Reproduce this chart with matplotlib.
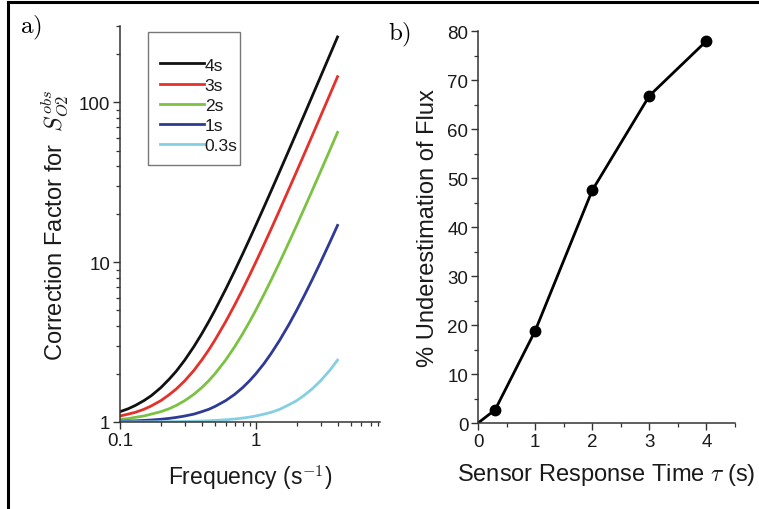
import numpy as np
import matplotlib.pyplot as plt
from matplotlib.ticker import FixedLocator, NullFormatter, FuncFormatter, MultipleLocator
from matplotlib.lines import Line2D
from matplotlib.patches import Rectangle

plt.rcParams['font.family'] = ['Liberation Sans', 'DejaVu Sans']
plt.rcParams['mathtext.fontset'] = 'cm'

# panel a) values
freq = [0.1, 0.115, 0.13, 0.15, 0.17, 0.2, 0.23, 0.26, 0.3, 0.35, 0.4, 0.45,
        0.5, 0.6, 0.7, 0.8, 0.9, 1.0, 1.15, 1.3, 1.5, 1.75, 2.0, 2.3, 2.6,
        3.0, 3.5, 4.0]
cf_4s = [1.16, 1.21, 1.27, 1.36, 1.46, 1.64, 1.85, 2.08, 2.44, 2.96, 3.56, 4.24,
         5.0, 6.76, 8.84, 11.24, 13.96, 17, 22.16, 28.04, 37, 50, 65, 85.6, 109.2,
         145, 197, 257]
cf_3s = [1.09, 1.12, 1.15, 1.20, 1.26, 1.36, 1.48, 1.61, 1.81, 2.10, 2.44, 2.82,
         3.25, 4.24, 5.41, 6.76, 8.29, 10, 12.9, 16.2, 21.25, 28.6, 37, 48.6, 61.8,
         82, 111.25, 145]
cf_2s = [1.04, 1.05, 1.07, 1.09, 1.12, 1.16, 1.21, 1.27, 1.36, 1.49, 1.64, 1.81,
         2.0, 2.44, 2.96, 3.56, 4.24, 5.0, 6.29, 7.76, 10, 13.25, 17, 22.16, 28.04,
         37, 50, 65]
cf_1s = [1.01, 1.013, 1.017, 1.023, 1.029, 1.04, 1.053, 1.068, 1.09, 1.12, 1.16, 1.20,
         1.25, 1.36, 1.49, 1.64, 1.81, 2.0, 2.32, 2.69, 3.25, 4.06, 5.0, 6.29, 7.76,
         10, 13.25, 17]
cf_03s = [1.001, 1.001, 1.002, 1.002, 1.003, 1.004, 1.005, 1.006, 1.008, 1.011, 1.014, 1.018,
          1.023, 1.032, 1.044, 1.058, 1.073, 1.09, 1.12, 1.15, 1.20, 1.28, 1.36, 1.48, 1.61,
          1.81, 2.10, 2.44]
labels = ['4s', '3s', '2s', '1s', '0.3s']
colors = ['#111111', '#e4322b', '#7cc242', '#2f3996', '#84d0e2']

# panel b)
tau = [0, 0.3, 1, 2, 3, 4]
under = [0, 2.7, 18.8, 47.5, 66.8, 78.0]

txt = '#1a1a1a'
fig = plt.figure(figsize=(7.59, 5.10), dpi=100)

# frame lines (left and top) of the original figure
fig.add_artist(Line2D([0.011, 0.011], [0, 0.995], color='black', lw=2.2,
                      transform=fig.transFigure))
fig.add_artist(Line2D([0.011, 1.0], [0.995, 0.995], color='black', lw=2.2,
                      transform=fig.transFigure))

# ---- a)
ax1 = fig.add_axes([0.158, 0.1706, 0.3425, 0.776])
for y, lab, c in zip([cf_4s, cf_3s, cf_2s, cf_1s, cf_03s], labels, colors):
    ax1.plot(freq, y, color=c, lw=2.0, label=lab)
ax1.set_xscale('log')
ax1.set_yscale('log')
ax1.set_xlim(0.1, 8.2)
ax1.set_ylim(1, 300)
ax1.xaxis.set_major_locator(FixedLocator([0.1, 1]))
ax1.xaxis.set_minor_locator(FixedLocator([0.2, 0.3, 0.4, 0.5, 0.6, 0.7, 0.8, 0.9,
                                          2, 3, 4, 5, 6, 7, 8]))
ax1.yaxis.set_major_locator(FixedLocator([1, 10, 100]))
ax1.yaxis.set_minor_locator(FixedLocator([2, 3, 4, 5, 6, 7, 8, 9,
                                          20, 30, 40, 50, 60, 70, 80, 90, 200, 300]))
fmt = FuncFormatter(lambda v, p: '{:g}'.format(v))
ax1.xaxis.set_major_formatter(fmt)
ax1.yaxis.set_major_formatter(fmt)
ax1.xaxis.set_minor_formatter(NullFormatter())
ax1.yaxis.set_minor_formatter(NullFormatter())
ax1.set_xlabel('Frequency (s$^{\\mathsf{-1}}$)', fontsize=16.5, color=txt, labelpad=10)
ax1.set_ylabel('Correction Factor for  $S^{obs}_{O2}$', fontsize=17, color=txt, labelpad=6)
leg = ax1.legend(loc='upper left', bbox_to_anchor=(150 / 759, 1 - 48 / 510),
                 bbox_transform=fig.transFigure, fontsize=12.5,
                 handlelength=2.5, handletextpad=0.05, labelspacing=0.28,
                 borderpad=0.1, frameon=False)
for t in leg.get_texts():
    t.set_color(txt)
fig.add_artist(Rectangle((148 / 759, 1 - 166 / 510), 92 / 759, 133 / 510,
                         transform=fig.transFigure, fill=False,
                         edgecolor='#777777', lw=1.0))

# ---- b)
ax2 = fig.add_axes([0.6298, 0.1686, 0.3386, 0.7684])
ax2.plot(tau, under, color='black', lw=2.0)
ax2.plot(tau[1:], under[1:], 'o', color='black', ms=7.5)
ax2.set_xlim(0, 4.5)
ax2.set_ylim(0, 80)
ax2.xaxis.set_major_locator(MultipleLocator(1))
ax2.xaxis.set_minor_locator(MultipleLocator(0.5))
ax2.yaxis.set_major_locator(MultipleLocator(10))
ax2.yaxis.set_minor_locator(MultipleLocator(5))
ax2.set_xlabel('Sensor Response Time $\\tau$ (s)', fontsize=17, color=txt, labelpad=8)
ax2.set_ylabel('% Underestimation of Flux', fontsize=17, color=txt, labelpad=6)

for ax in (ax1, ax2):
    for s in ('top', 'right'):
        ax.spines[s].set_visible(False)
    for s in ('left', 'bottom'):
        ax.spines[s].set_linewidth(1.1)
        ax.spines[s].set_color('#333333')
        ax.spines[s].set_clip_on(False)
    ax.tick_params(which='major', length=5, width=1.0, labelsize=13.5,
                   colors='#333333', labelcolor=txt, pad=2)
    ax.tick_params(which='minor', length=3, width=0.9, colors='#333333')
    ax.patch.set_alpha(0)

fig.text(0.027, 0.945, '$\\mathrm{a)}$', fontsize=18, color='black', va='center')
fig.text(0.511, 0.932, '$\\mathrm{b)}$', fontsize=18, color='black', va='center')

fig.savefig('out.png', dpi=100)
